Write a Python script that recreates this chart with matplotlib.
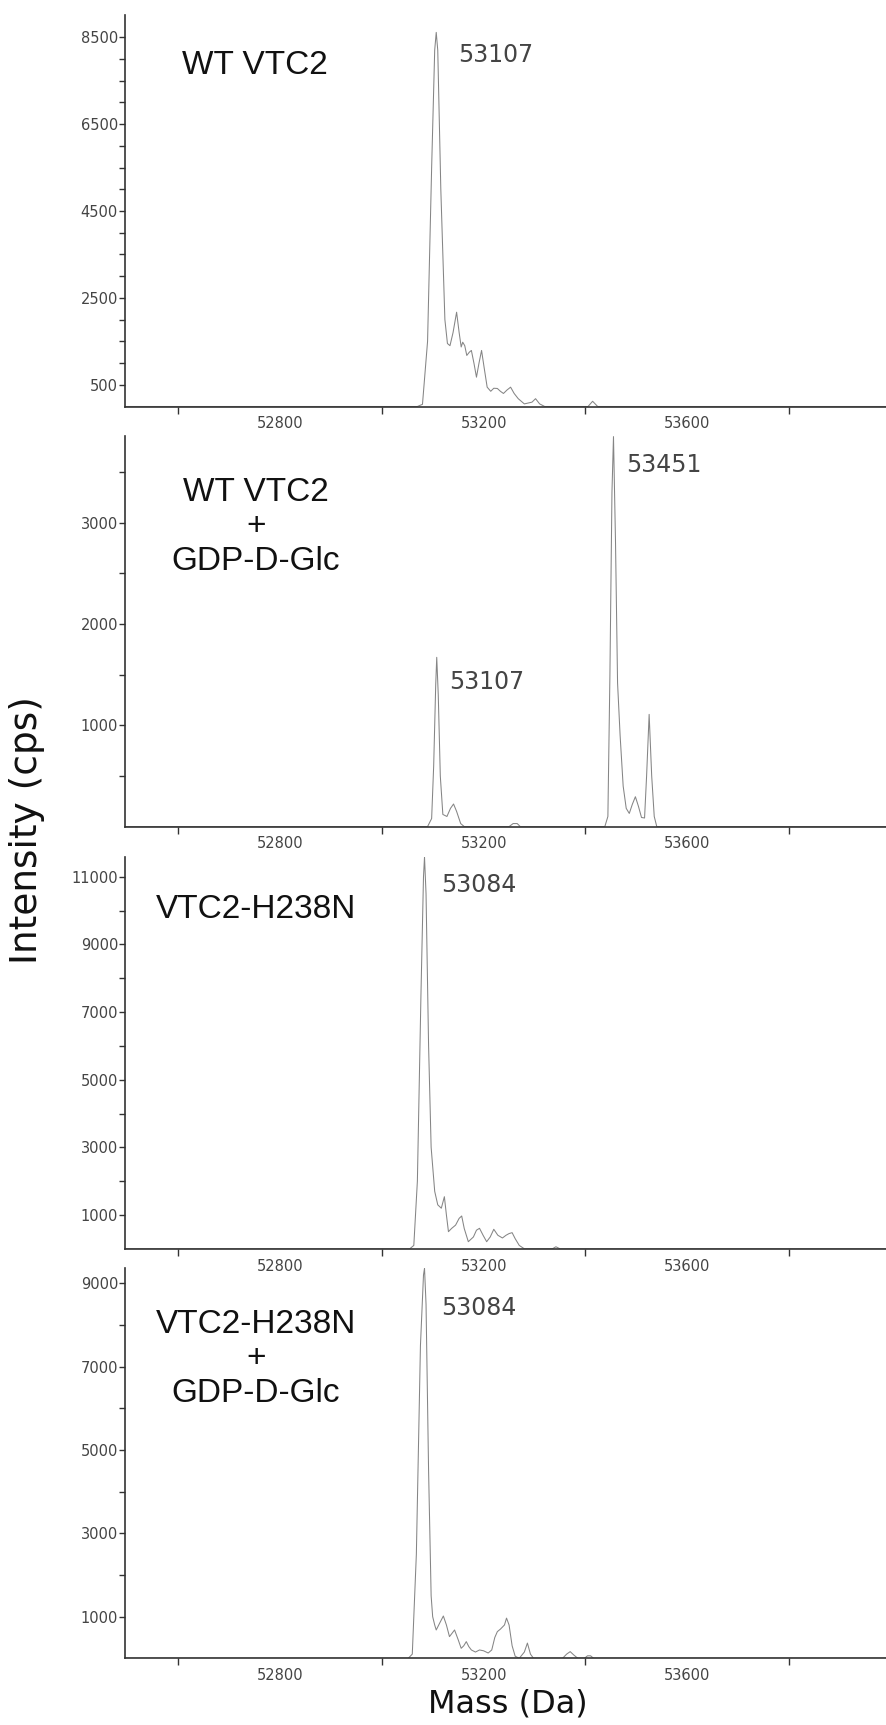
import matplotlib
matplotlib.use("Agg")
import matplotlib.pyplot as plt
import numpy as np

# Deconvoluted mass spectra
# panel 1: WT VTC2
wt_mass = [52496, 53070, 53080, 53090, 53098, 53104, 53107, 53110, 53116, 53124,
           53129, 53134, 53140, 53147, 53152, 53156, 53159, 53163, 53167, 53172,
           53176, 53181, 53186, 53191, 53196, 53201, 53207, 53214, 53220, 53227,
           53233, 53239, 53246, 53253, 53260, 53268, 53280, 53295, 53302, 53310,
           53320, 53405, 53414, 53424, 54000]
wt_int = [0, 0, 50, 1500, 5500, 8200, 8610, 8200, 5000, 2000,
          1450, 1400, 1700, 2170, 1700, 1370, 1480, 1400, 1175, 1250,
          1290, 1000, 675, 1000, 1290, 900, 445, 350, 420, 415,
          350, 300, 380, 445, 300, 180, 60, 100, 180, 60,
          0, 0, 120, 0, 0]

# panel 2: WT VTC2 + GDP-D-Glc
wtg_mass = [52496, 53090, 53098, 53102, 53106, 53108, 53111, 53115, 53120, 53128,
            53135, 53141, 53147, 53155, 53162, 53250, 53258, 53266, 53272, 53438,
            53444, 53448, 53452, 53455, 53459, 53463, 53468, 53474, 53480, 53486,
            53492, 53498, 53504, 53510, 53516, 53520, 53525, 53530, 53535, 53540,
            54000]
wtg_int = [0, 0, 80, 600, 1400, 1671, 1300, 500, 120, 100,
           180, 223, 150, 30, 0, 0, 30, 30, 0, 0,
           100, 1500, 3300, 3850, 2800, 1418, 900, 400, 180, 130,
           220, 295, 200, 90, 85, 500, 1108, 500, 100, 0,
           0]

# panel 3: VTC2-H238N
mut_mass = [52496, 53055, 53063, 53070, 53077, 53082, 53084, 53087, 53092, 53097,
            53104, 53110, 53117, 53123, 53127, 53131, 53137, 53145, 53152, 53157,
            53162, 53170, 53180, 53186, 53192, 53199, 53206, 53213, 53220, 53228,
            53237, 53244, 53250, 53256, 53262, 53270, 53280, 53335, 53342, 53350,
            54000]
mut_int = [0, 0, 100, 2000, 7500, 11000, 11580, 10500, 6000, 3000,
           1700, 1300, 1200, 1540, 1000, 506, 600, 700, 900, 970,
           600, 210, 350, 550, 606, 400, 210, 350, 577, 400,
           320, 400, 450, 477, 300, 100, 0, 0, 60, 0,
           0]

# panel 4: VTC2-H238N + GDP-D-Glc
mutg_mass = [52496, 53052, 53060, 53068, 53076, 53082, 53084, 53087, 53092, 53097,
             53100, 53104, 53107, 53114, 53121, 53127, 53133, 53138, 53143, 53150,
             53156, 53161, 53166, 53171, 53176, 53184, 53192, 53200, 53209, 53216,
             53222, 53227, 53233, 53241, 53245, 53250, 53256, 53262, 53270, 53280,
             53286, 53292, 53298, 53355, 53363, 53370, 53377, 53385, 53398, 53404,
             53410, 53416, 54000]
mutg_int = [0, 0, 100, 2500, 7500, 9200, 9360, 8500, 4500, 1500,
            1000, 800, 680, 850, 1015, 800, 520, 600, 680, 450,
            240, 300, 400, 280, 200, 150, 200, 180, 127, 200,
            500, 640, 700, 800, 965, 800, 300, 50, 0, 150,
            365, 100, 0, 0, 100, 160, 80, 0, 0, 60,
            60, 0, 0]

panel_names = ["WT VTC2", "WT VTC2\n+\nGDP-D-Glc", "VTC2-H238N", "VTC2-H238N\n+\nGDP-D-Glc"]
peak_labels = [["53107"], ["53451", "53107"], ["53084"], ["53084"]]
y_tops = [9010, 3856, 11575, 9360]
y_major = [[500, 2500, 4500, 6500, 8500],
           [1000, 2000, 3000],
           [1000, 3000, 5000, 7000, 9000, 11000],
           [1000, 3000, 5000, 7000, 9000]]
y_minor = [np.arange(500, 9000, 500), np.arange(500, 3800, 500),
           np.arange(1000, 11500, 1000), np.arange(1000, 9300, 1000)]
x_major = [52800, 53200, 53600]
x_minor = [52600, 53000, 53400, 53800]

series = [(wt_mass, wt_int), (wtg_mass, wtg_int), (mut_mass, mut_int), (mutg_mass, mutg_int)]

W, H = 886, 1725
fig = plt.figure(figsize=(W / 100, H / 100), dpi=100)

# axes boxes in pixels: (top, bottom)
boxes = [(15, 406.5), (436, 826.6), (857.3, 1248.8), (1268.3, 1658.3)]
left_px = 125

# label positions in pixels (x, y centre)
name_pos = [(255, 66), (256, 527), (256, 910), (256, 1359)]
num_pos = [[(458, 55)], [(626, 465), (449, 682)], [(441, 885)], [(441, 1308)]]

for i, (top, bot) in enumerate(boxes):
    ax = fig.add_axes([left_px / W, 1 - bot / H, 1 - left_px / W, (bot - top) / H])
    ax.set_facecolor("none")
    m, v = series[i]
    ax.plot(m, v, color="#858585", lw=0.75)
    ax.set_xlim(52496, 53990)
    ax.set_ylim(0, y_tops[i])
    for s in ["top", "right"]:
        ax.spines[s].set_visible(False)
    for s in ["left", "bottom"]:
        ax.spines[s].set_color("#333333")
        ax.spines[s].set_linewidth(1.2)
    ax.set_yticks(y_major[i])
    ax.set_yticks(y_minor[i], minor=True)
    ax.set_xticks(x_major)
    ax.set_xticks(x_minor, minor=True)
    ax.tick_params(axis="y", which="both", direction="out", length=4, width=1,
                   color="#333333", labelsize=10.5, labelcolor="#444444", pad=1)
    ax.tick_params(axis="x", which="major", length=0, labelsize=10.5,
                   labelcolor="#444444", pad=7)
    ax.tick_params(axis="x", which="minor", direction="out", length=5, width=1,
                   color="#333333")

    nx, ny = name_pos[i]
    fig.text(nx / W, 1 - ny / H, panel_names[i], ha="center", va="center",
             fontsize=24, family="Liberation Sans", color="#111111",
             linespacing=1.15)
    for txt, (px, py) in zip(peak_labels[i], num_pos[i]):
        fig.text(px / W, 1 - py / H, txt, ha="left", va="center",
                 fontsize=17, color="#444444")

fig.text(27 / W, 1 - 830 / H, "Intensity (cps)", rotation=90, ha="center",
         va="center", fontsize=27, color="#111111")
fig.text(508 / W, 1 - 1704 / H, "Mass (Da)", ha="center", va="center",
         fontsize=23, color="#111111")

fig.savefig("out.png", dpi=100, facecolor="white")
